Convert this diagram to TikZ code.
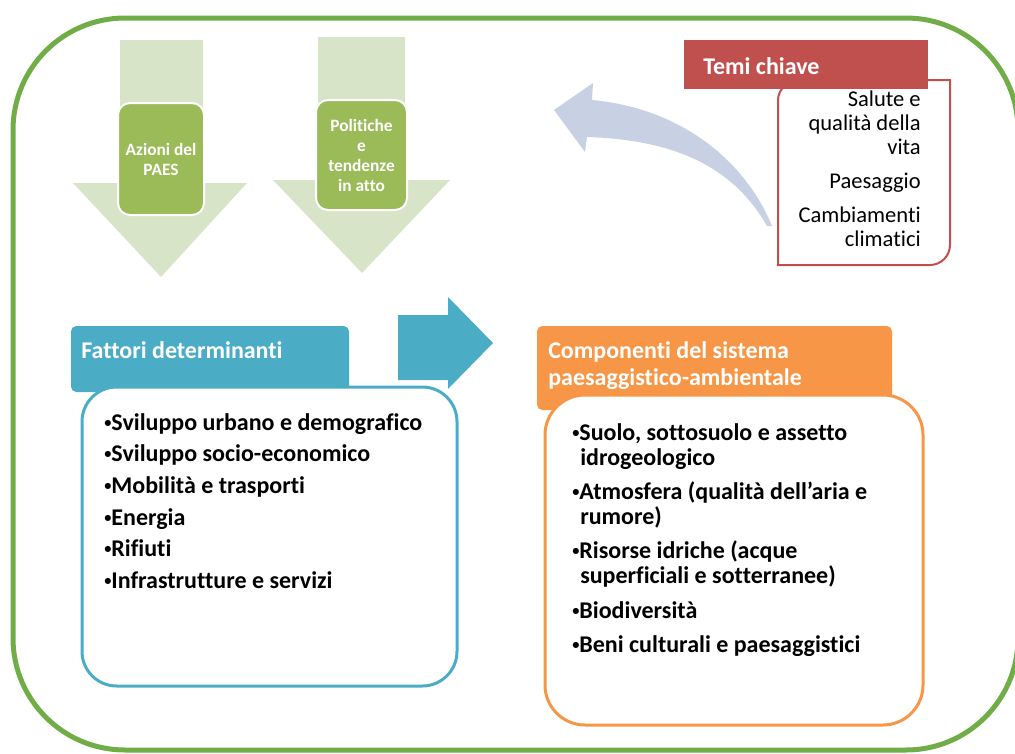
\documentclass[tikz,border=0pt]{standalone}
\usepackage{fontspec}
\setmainfont{Carlito}[Ligatures={NoCommon,NoContextual}]
\definecolor{frameGreen}{RGB}{112,173,71}
\definecolor{arrowGreen}{RGB}{216,228,199}
\definecolor{boxGreen}{RGB}{155,187,89}
\definecolor{blueA}{RGB}{75,172,198}
\definecolor{orangeA}{RGB}{247,150,70}
\definecolor{redA}{RGB}{192,80,77}
\definecolor{curveBlue}{RGB}{199,209,227}
\newcommand{\bul}{\raisebox{2.2pt}{\scalebox{0.6}{•}}}
\tikzset{
  gbox/.style={fill=boxGreen, draw=white, line width=1.5pt, rounded corners=9pt,
    text=white, align=center, inner sep=0pt,
    font=\bfseries\fontsize{13}{15}\selectfont},
  headfill/.style={rounded corners=4pt, inner sep=0pt},
  headtxt/.style={text=white, align=left, inner sep=0pt, anchor=north west,
    font=\bfseries\fontsize{18}{20.25}\selectfont},
  listbox/.style={fill=white, line width=2.25pt, inner sep=0pt},
  listtxt/.style={align=left, inner sep=0pt, anchor=north west, text=black},
}
\begin{document}
\begin{tikzpicture}[x=0.75pt,y=-0.75pt]
\useasboundingbox (0,0) rectangle (1015,754);
\clip (0,0) rectangle (1015,754);
% outer frame
\draw[frameGreen, line width=3.75pt, rounded corners=84pt] (13,18) rectangle (1018,750);
% down arrows
\fill[arrowGreen] (120,40) -- (203,40) -- (203,183) -- (247,183) -- (161,277) -- (73,183) -- (120,183) -- cycle;
\fill[arrowGreen] (318,37) -- (405,37) -- (405,180) -- (450,180) -- (362,273) -- (273,180) -- (318,180) -- cycle;
% green boxes
\node[gbox, minimum width=64.5pt, minimum height=84pt] (paes) at (161,159) {Azioni del\\PAES};
\node[gbox, minimum width=68.25pt, minimum height=82.5pt] (pol) at (361.5,155) {Politiche\\e\\tendenze\\in atto};
% curved arrow
\fill[curveBlue] (772,226) .. controls (745,160) and (680,108) .. (592,100) -- (593,83) -- (554,110) -- (585,152) -- (587,137) .. controls (680,140) and (735,170) .. (767,226) -- cycle;
% Temi chiave
\draw[redA, line width=1.5pt, fill=white] (778,265) -- (778,100) .. controls (778,89) and (789,80) .. (798,80) -- (950,80) -- (950,245) .. controls (950,256) and (941,265) .. (930,265) -- cycle;
\node[fill=redA, minimum width=183pt, minimum height=36.75pt, inner sep=0pt] (temihead) at (806,64.5) {};
\node[headtxt] (temititle) at (703,57) {Temi chiave};
\node[anchor=north east, align=right, inner sep=0pt, font=\fontsize{16.9}{18}\selectfont] (temitxt) at (921,91)
  {Salute e\\qualità della\\vita\\[7.5pt]Paesaggio\\[7pt]Cambiamenti\\climatici};
% blue arrow
\fill[blueA] (398,315) -- (448,315) -- (448,297) -- (493,343) -- (448,389) -- (448,380) -- (398,380) -- cycle;
% Fattori determinanti
\node[headfill, fill=blueA, minimum width=208.5pt, minimum height=49.5pt] (fathead) at (210,359) {};
\node[headtxt] (fattitle) at (81,341) {Fattori determinanti};
\node[listbox, draw=blueA, rounded corners=26pt, minimum width=281.25pt, minimum height=224.25pt] (fatbody) at (269.5,536.5) {};
\node[listtxt, font=\bfseries\fontsize{18}{23.75}\selectfont] (fattxt) at (104,413)
  {\bul Sviluppo urbano e demografico\\\bul Sviluppo socio-economico\\\bul Mobilità e trasporti\\\bul Energia\\\bul Rifiuti\\\bul Infrastrutture e servizi};
% Componenti
\node[headfill, fill=orangeA, minimum width=266.25pt, minimum height=63pt] (comphead) at (714.5,368) {};
\node[headtxt] (comptitle) at (548,341) {Componenti del sistema\\paesaggistico-ambientale};
\node[listbox, draw=orangeA, rounded corners=30pt, minimum width=283.5pt, minimum height=247.5pt] (compbody) at (734,560) {};
\node[listtxt, font=\bfseries\fontsize{18}{18.75}\selectfont] (comptxt) at (572,423)
  {\bul Suolo, sottosuolo e assetto\\\hspace*{6pt}idrogeologico\\[7pt]\bul Atmosfera (qualità dell’aria e\\\hspace*{6pt}rumore)\\[7pt]\bul Risorse idriche (acque\\\hspace*{6pt}superficiali e sotterranee)\\[7pt]\bul Biodiversità\\[7pt]\bul Beni culturali e paesaggistici};
\end{tikzpicture}
\end{document}
